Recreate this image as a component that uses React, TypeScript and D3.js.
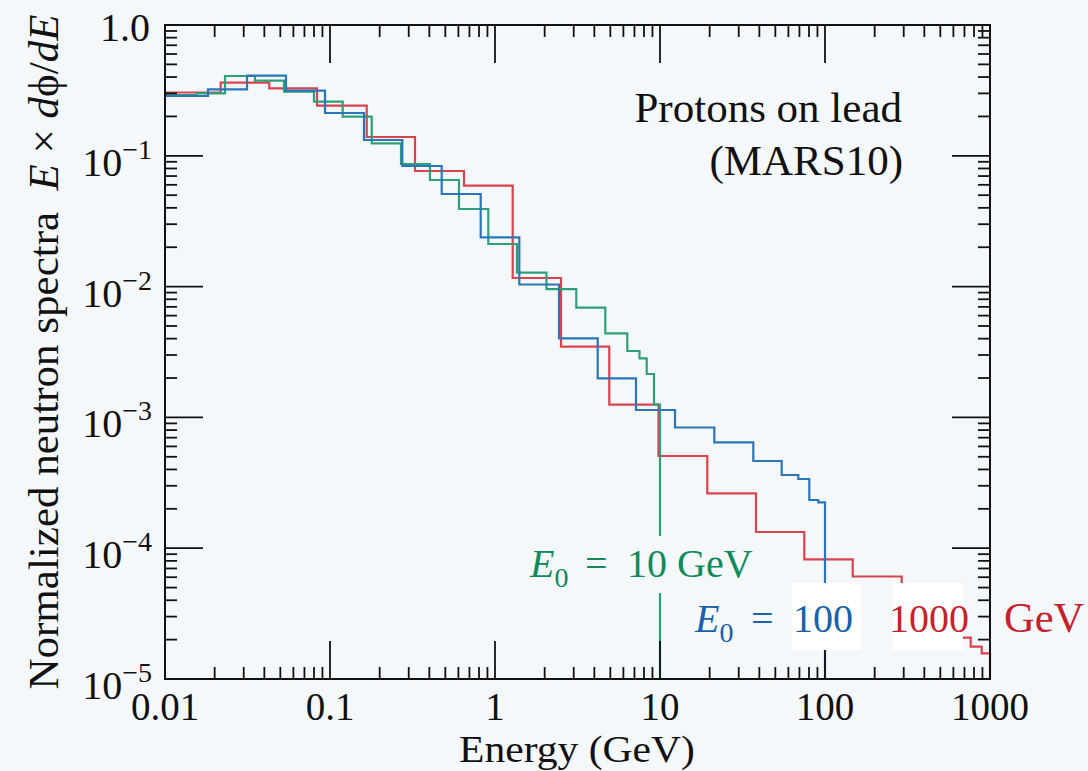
import React from 'react';
import * as d3 from 'd3';

// E0 = 10 GeV (green)
const greenEdges = [0.01, 0.01557, 0.0231, 0.03511, 0.05262, 0.07996, 0.1194, 0.179, 0.2694, 0.4037, 0.605, 0.9108, 1.359, 2.051, 3.11, 4.662, 6.336, 7.511, 8.307, 9.196, 10];
const greenValues = [0.2916, 0.3004, 0.4075, 0.3752, 0.3091, 0.2592, 0.199, 0.1246, 0.08658, 0.06531, 0.0392, 0.02117, 0.01277, 0.009552, 0.006899, 0.004395, 0.003218, 0.00283, 0.002147, 0.001255];

// E0 = 100 GeV (blue)
const blueEdges = [0.01, 0.01822, 0.03141, 0.05412, 0.09326, 0.1607, 0.2743, 0.4753, 0.8191, 1.404, 2.443, 4.193, 7.152, 12.33, 21.34, 36.77, 54.65, 68.89, 80.32, 91.08, 100];
const blueValues = [0.2866, 0.3224, 0.4096, 0.3146, 0.2124, 0.1321, 0.08356, 0.05105, 0.02381, 0.01038, 0.004024, 0.00199, 0.001139, 0.0008373, 0.0006451, 0.0004642, 0.0003627, 0.0003382, 0.0002336, 0.0002243];

// E0 = 1000 GeV (red)
const redEdges = [0.01, 0.02176, 0.04286, 0.08341, 0.1669, 0.3275, 0.6488, 1.28, 2.512, 4.928, 9.793, 19.35, 38.17, 74.9, 147.2, 291.6, 576.2, 763.8, 890.7, 1000];
const redValues = [0.3047, 0.3622, 0.3281, 0.2415, 0.1392, 0.07653, 0.05906, 0.01163, 0.003471, 0.001251, 0.0005069, 0.0002629, 0.000133, 0.00008225, 0.00006075, 0.00003369, 0.00002069, 0.00001766, 0.00001572];

const xTickValues = [0.01, 0.1, 1, 10, 100, 1000];
const xTickLabels = ['0.01', '0.1', '1', '10', '100', '1000'];
const yTickValues = [1, 0.1, 0.01, 0.001, 0.0001, 0.00001];
const yTickExponents = ['', '\u22121', '\u22122', '\u22123', '\u22124', '\u22125'];

const W = 1088;
const H = 771;
const BG = '#f5f8fb';
const FONT = '"Liberation Serif", "Times New Roman", serif';
const GREEN = '#2ea078';
const BLUE = '#2b76ba';
const RED = '#d8434d';
const GREEN_T = '#0f8a5a';
const BLUE_T = '#1961aa';
const RED_T = '#c5222e';

export default function App() {
  const x = d3.scaleLog().domain([0.01, 1000]).range([165, 990]);
  const y = d3.scaleLog().domain([1e-5, 1]).range([679, 25]);
  const [x0, x1] = x.range();
  const [y0, y1] = y.range();

  const stepPath = (edges: number[], values: number[]) => {
    const pts: [number, number][] = values.map((v, i) => [edges[i], v]);
    pts.push([edges[edges.length - 1], values[values.length - 1]]);
    pts.push([edges[edges.length - 1], 1e-5]);
    return d3
      .line<[number, number]>()
      .x((d) => x(d[0]))
      .y((d) => y(d[1]))
      .curve(d3.curveStepAfter)(pts) as string;
  };

  const xMinor: number[] = [];
  for (let d = 0.01; d < 999; d *= 10) for (let k = 2; k <= 9; k++) xMinor.push(k * d);
  const yMinor: number[] = [];
  for (let d = 1e-5; d < 0.99; d *= 10) for (let k = 2; k <= 9; k++) yMinor.push(k * d);

  const MAJ = 38;
  const MIN = 12;
  const tickStroke = { stroke: '#111', strokeWidth: 1.8 };

  return (
    <svg width={W} height={H} style={{ position: 'absolute', left: 0, top: 0, display: 'block' }} fontFamily={FONT}>
      <rect x={0} y={0} width={W} height={H} fill={BG} />

      <g fill="none" strokeWidth={2.2}>
        <path d={stepPath(redEdges, redValues)} stroke={RED} />
        <path d={stepPath(greenEdges, greenValues)} stroke={GREEN} />
        <path d={stepPath(blueEdges, blueValues)} stroke={BLUE} />
      </g>

      {/* ticks */}
      <g>
        {xTickValues.map((v) => (
          <g key={'xM' + v}>
            <line x1={x(v)} x2={x(v)} y1={y0} y2={y0 - MAJ} {...tickStroke} />
            <line x1={x(v)} x2={x(v)} y1={y1} y2={y1 + MAJ} {...tickStroke} />
          </g>
        ))}
        {xMinor.map((v) => (
          <g key={'xm' + v}>
            <line x1={x(v)} x2={x(v)} y1={y0} y2={y0 - MIN} {...tickStroke} />
            <line x1={x(v)} x2={x(v)} y1={y1} y2={y1 + MIN} {...tickStroke} />
          </g>
        ))}
        {yTickValues.map((v) => (
          <g key={'yM' + v}>
            <line x1={x0} x2={x0 + MAJ} y1={y(v)} y2={y(v)} {...tickStroke} />
            <line x1={x1} x2={x1 - MAJ} y1={y(v)} y2={y(v)} {...tickStroke} />
          </g>
        ))}
        {yMinor.map((v) => (
          <g key={'ym' + v}>
            <line x1={x0} x2={x0 + MIN} y1={y(v)} y2={y(v)} {...tickStroke} />
            <line x1={x1} x2={x1 - MIN} y1={y(v)} y2={y(v)} {...tickStroke} />
          </g>
        ))}
        <rect x={x0} y={y1} width={x1 - x0} height={y0 - y1} fill="none" stroke="#111" strokeWidth={2} />
      </g>

      {/* tick labels */}
      <g fontSize={39} fill="#111">
        {xTickValues.map((v, i) => (
          <text key={'xl' + v} x={x(v)} y={719.5} textAnchor="middle">
            {xTickLabels[i]}
          </text>
        ))}
      </g>
      <g fontSize={40} fill="#111">
        {yTickValues.map((v, i) =>
          i === 0 ? (
            <text key={'yl' + v} x={150} y={y(v) + 16} textAnchor="end">
              1.0
            </text>
          ) : (
            <text key={'yl' + v} x={152} y={y(v) + 20} textAnchor="end">
              10
              <tspan fontSize={28} dy={-17}>
                {yTickExponents[i]}
              </tspan>
            </text>
          )
        )}
      </g>

      {/* axis titles */}
      <text transform="translate(577,762.3) scale(1.08,1)" fontSize={38.5} textAnchor="middle" fill="#111">
        Energy (GeV)
      </text>
      <text transform="translate(58,352) rotate(-90)" fontSize={43} textAnchor="middle" fill="#111">
        Normalized neutron spectra{'\u00a0\u00a0'}
        <tspan fontStyle="italic">E</tspan>
        {' \u00d7 '}
        <tspan fontStyle="italic">d</tspan>
        {'\u03d5/'}
        <tspan fontStyle="italic">dE</tspan>
      </text>

      {/* annotation */}
      <g fontSize={43} fill="#111" textAnchor="end">
        <text x={902} y={122}>Protons on lead</text>
        <text x={903} y={175}>(MARS10)</text>
      </g>

      {/* series labels */}
      <rect x={522} y={536} width={238} height={57} fill={BG} />
      <g fontSize={40} fill={GREEN_T}>
        <text x={530} y={577}>
          <tspan fontStyle="italic">E</tspan>
          <tspan fontSize={28} dy={10}>0</tspan>
        </text>
        <text x={585} y={577}>=</text>
        <text x={627} y={577}>10 GeV</text>
      </g>

      <rect x={792} y={583} width={69} height={67} fill="#ffffff" />
      <rect x={893} y={583} width={70} height={67} fill="#ffffff" />
      <g fontSize={40} fill={BLUE_T}>
        <text x={695} y={632}>
          <tspan fontStyle="italic">E</tspan>
          <tspan fontSize={28} dy={10}>0</tspan>
        </text>
        <text x={751} y={632}>=</text>
        <text x={793} y={632}>100</text>
      </g>
      <g fill={RED_T}>
        <text x={889} y={632} fontSize={40}>1000</text>
        <text x={1004} y={632} fontSize={42.5}>GeV</text>
      </g>
    </svg>
  );
}
